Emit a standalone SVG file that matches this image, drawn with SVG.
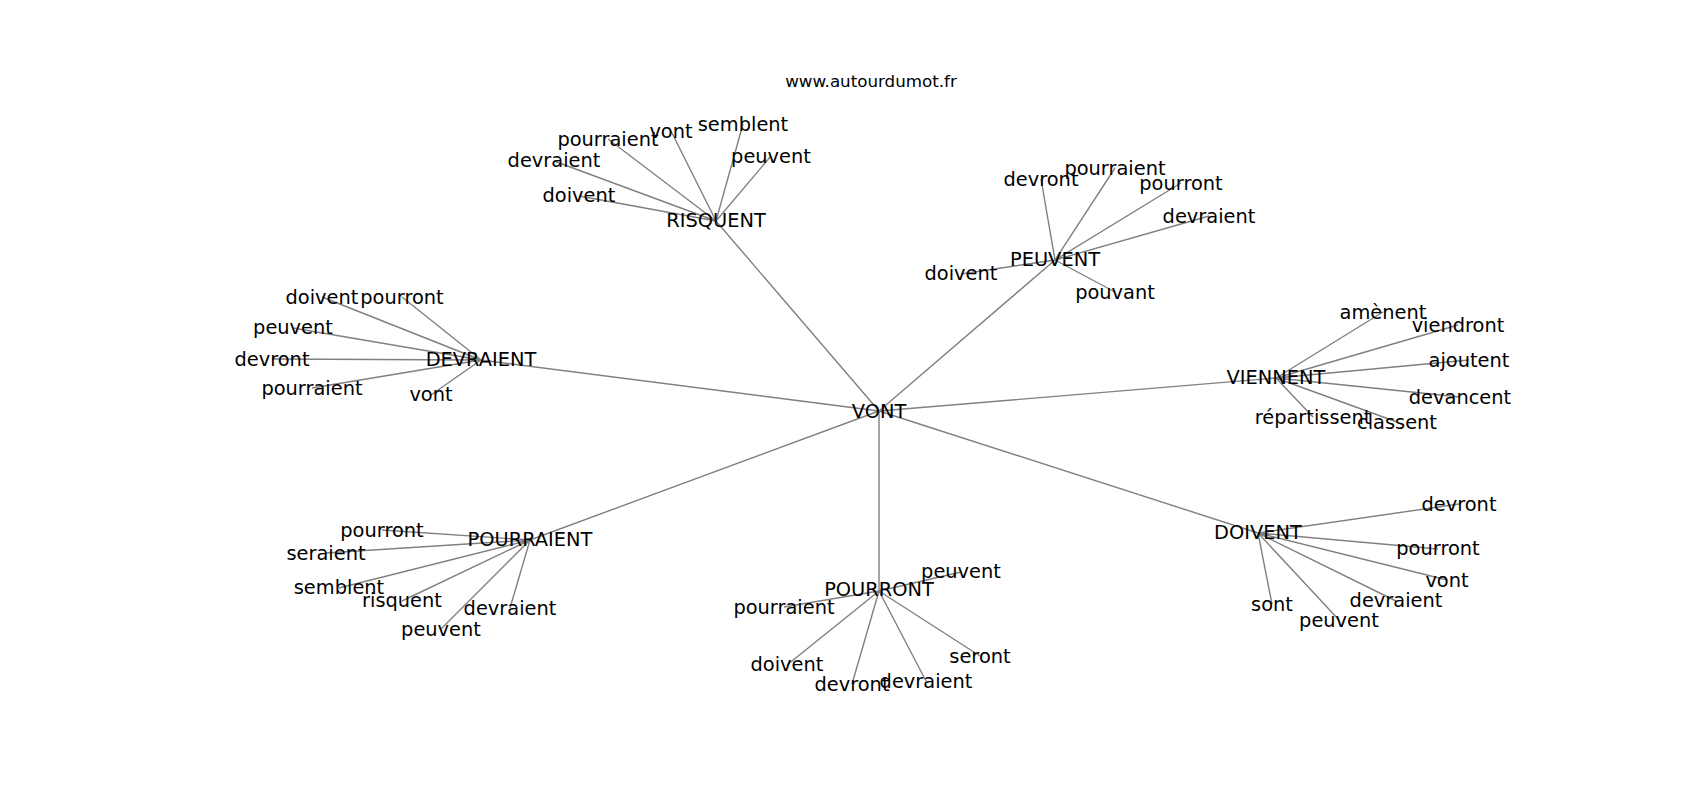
<svg xmlns="http://www.w3.org/2000/svg" width="1700" height="800" viewBox="0 0 1700 800">
<style>
.e{stroke:#808080;stroke-width:1.4;fill:none}
text{font-family:"DejaVu Sans",sans-serif;font-size:19.4px;fill:#000;text-anchor:middle}
.title{font-size:16.7px}
</style>
<rect width="1700" height="800" fill="#fff"/>
<g id="connectors">
<path class="e" d="M879,411L716,221M879,411L1055,260M879,411L481,360M879,411L1276,378M879,411L1258,533M879,411L879,591M879,411L530,540"/>
<path class="e" d="M716,221L579,196M716,221L554,161M716,221L608,139M716,221L671,131M716,221L743,124M716,221L771,156"/>
<path class="e" d="M1055,260L961,274M1055,260L1041,179M1055,260L1115,168M1055,260L1181,183M1055,260L1209,216M1055,260L1115,292"/>
<path class="e" d="M481,360L322,297M481,360L402,297M481,360L293,328M481,360L272,359M481,360L312,388M481,360L431,395"/>
<path class="e" d="M1276,378L1383,312M1276,378L1458,325M1276,378L1469,360M1276,378L1460,397M1276,378L1397,422M1276,378L1313,417"/>
<path class="e" d="M1258,533L1459,504M1258,533L1438,549M1258,533L1447,580M1258,533L1396,601M1258,533L1339,620M1258,533L1272,604"/>
<path class="e" d="M879,591L961,572M879,591L784,607M879,591L787,665M879,591L852,684M879,591L926,681M879,591L980,656"/>
<path class="e" d="M530,540L382,530M530,540L326,553M530,540L339,588M530,540L402,601M530,540L441,629M530,540L510,608"/>
</g>
<text class="title" x="871" y="87">www.autourdumot.fr</text>
<g id="VONT"><text x="879" y="418">VONT</text></g>
<g id="RISQUENT"><text x="716" y="227">RISQUENT</text></g>
<g id="RISQUENT-leaves">
<text x="579" y="202">doivent</text>
<text x="554" y="167">devraient</text>
<text x="608" y="146">pourraient</text>
<text x="671" y="138">vont</text>
<text x="743" y="131">semblent</text>
<text x="771" y="163">peuvent</text>
</g>
<g id="PEUVENT"><text x="1055" y="266">PEUVENT</text></g>
<g id="PEUVENT-leaves">
<text x="961" y="280">doivent</text>
<text x="1041" y="186">devront</text>
<text x="1115" y="175">pourraient</text>
<text x="1181" y="190">pourront</text>
<text x="1209" y="223">devraient</text>
<text x="1115" y="299">pouvant</text>
</g>
<g id="DEVRAIENT"><text x="481" y="366">DEVRAIENT</text></g>
<g id="DEVRAIENT-leaves">
<text x="322" y="304">doivent</text>
<text x="402" y="304">pourront</text>
<text x="293" y="334">peuvent</text>
<text x="272" y="366">devront</text>
<text x="312" y="395">pourraient</text>
<text x="431" y="401">vont</text>
</g>
<g id="VIENNENT"><text x="1276" y="384">VIENNENT</text></g>
<g id="VIENNENT-leaves">
<text x="1383" y="319">amènent</text>
<text x="1458" y="332">viendront</text>
<text x="1469" y="367">ajoutent</text>
<text x="1460" y="404">devancent</text>
<text x="1397" y="429">classent</text>
<text x="1313" y="424">répartissent</text>
</g>
<g id="DOIVENT"><text x="1258" y="539">DOIVENT</text></g>
<g id="DOIVENT-leaves">
<text x="1459" y="511">devront</text>
<text x="1438" y="555">pourront</text>
<text x="1447" y="587">vont</text>
<text x="1396" y="607">devraient</text>
<text x="1339" y="627">peuvent</text>
<text x="1272" y="611">sont</text>
</g>
<g id="POURRONT"><text x="879" y="596">POURRONT</text></g>
<g id="POURRONT-leaves">
<text x="961" y="578">peuvent</text>
<text x="784" y="614">pourraient</text>
<text x="787" y="671">doivent</text>
<text x="852" y="691">devront</text>
<text x="926" y="688">devraient</text>
<text x="980" y="663">seront</text>
</g>
<g id="POURRAIENT"><text x="530" y="546">POURRAIENT</text></g>
<g id="POURRAIENT-leaves">
<text x="382" y="537">pourront</text>
<text x="326" y="560">seraient</text>
<text x="339" y="594">semblent</text>
<text x="402" y="607">risquent</text>
<text x="441" y="636">peuvent</text>
<text x="510" y="615">devraient</text>
</g>
</svg>
